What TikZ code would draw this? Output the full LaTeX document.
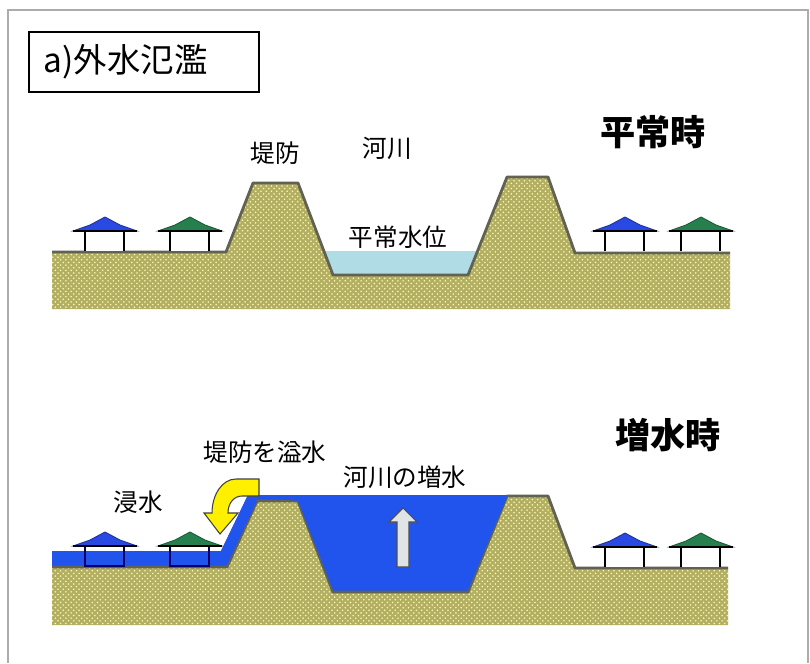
\documentclass[tikz,border=0pt]{standalone}
\usepackage{fontspec}
\setmainfont{Noto Sans CJK JP}
\usetikzlibrary{patterns}

\definecolor{soil}{RGB}{178,174,98}
\definecolor{soildot}{RGB}{250,248,178}
\definecolor{bankline}{RGB}{98,98,82}
\definecolor{calmwater}{RGB}{176,220,230}
\definecolor{floodwater}{RGB}{32,84,236}
\definecolor{roofblue}{RGB}{42,72,226}
\definecolor{roofgreen}{RGB}{38,128,78}
\definecolor{arrowyellow}{RGB}{255,240,0}

\tikzset{
  soilfill/.style={fill=soil},
  soiltex/.style={pattern=crosshatch dots, pattern color=soildot},
  bank/.style={draw=bankline, line width=1.6pt, line join=round},
  lbl/.style={inner sep=0pt, font=\fontsize{14}{14}\selectfont},
  big/.style={inner sep=0pt, font=\fontsize{20}{20}\selectfont\bfseries},
}

\begin{document}
\begin{tikzpicture}[x=0.02cm,y=-0.02cm]
    \useasboundingbox (0,0) rectangle (810,663);
    \fill[white] (0,0) rectangle (810,663);
    \draw[gray!65, line width=1.5pt] (8,663) -- (8,10) -- (808,10) -- (808,663);
    \node (title) [draw, line width=0.9pt, anchor=north west, minimum height=1.2cm,
      text width=4.0cm, inner xsep=0.3cm, font=\fontsize{19}{19}\selectfont] at (28,31) {a)外水氾濫};

    % normal water level
    \fill[calmwater] (322,251) -- (480,251) -- (470,280) -- (330,280) -- cycle;
    \path[soilfill] (52,252) -- (226,252) -- (253,183) -- (298,183) -- (333,275) -- (468,275)
      -- (507,177) -- (548,177) -- (575,253) -- (730,253) -- (730,309) -- (52,309) -- cycle;
    \path[soiltex] (52,252) -- (226,252) -- (253,183) -- (298,183) -- (333,275) -- (468,275)
      -- (507,177) -- (548,177) -- (575,253) -- (730,253) -- (730,309) -- (52,309) -- cycle;
    \draw[bank] (52,252) -- (226,252) -- (253,183) -- (298,183) -- (333,275) -- (468,275)
      -- (507,177) -- (548,177) -- (575,253) -- (730,253);
    \foreach \hx/\rc in {105/roofblue,190/roofgreen,625/roofblue,701/roofgreen} {
      \fill[white] (\hx-20,231) rectangle (\hx+19,251);
      \draw[black, line width=1pt] (\hx-20,251) -- (\hx-20,231) (\hx+19,231) -- (\hx+19,251);
      \filldraw[fill=\rc, draw=\rc!70!black, line width=0.5pt] (\hx-32,231) -- (\hx-15,225) -- (\hx,217)
        -- (\hx+15,225) -- (\hx+32,231) -- cycle;
      \draw[black, line width=0.9pt] (\hx-32,231) -- (\hx+32,231);
    }
    \node (dike) [lbl] at (275,153) {堤防};
    \node (river) [lbl] at (387,148) {河川};
    \node (level) [lbl] at (398,237) {平常水位};
    \node (normal) [big] at (653,132) {平常時};

    % flood
    \fill[floodwater] (52,551) -- (221,551) -- (248,495) -- (508,495) -- (470,600) -- (52,600) -- cycle;
    \path[soilfill] (52,567) -- (227,567) -- (257,501) -- (298,501) -- (333,592) -- (468,592)
      -- (507,496) -- (548,496) -- (575,568) -- (728,568) -- (728,625) -- (52,625) -- cycle;
    \path[soiltex] (52,567) -- (227,567) -- (257,501) -- (298,501) -- (333,592) -- (468,592)
      -- (507,496) -- (548,496) -- (575,568) -- (728,568) -- (728,625) -- (52,625) -- cycle;
    \draw[bank] (52,567) -- (227,567) -- (257,501) -- (298,501) -- (333,592) -- (468,592)
      -- (507,496) -- (548,496) -- (575,568) -- (728,568);
    \fill[floodwater] (52,551) -- (221,551) -- (248,495) -- (257,501) -- (227,565) -- (52,565) -- cycle;
    \fill[floodwater] (298,501) -- (248,495) -- (300,495) -- cycle;
    \fill[floodwater] (300,495) -- (298,501) -- (333,590) -- (468,590) -- (507,497) -- (507,495) -- cycle;
    \foreach \hx/\rc in {105/roofblue,190/roofgreen} {
      \fill[white] (\hx-20,546) rectangle (\hx+19,551);
      \draw[blue!40!black, line width=1pt] (\hx-20,546) rectangle (\hx+19,566);
      \filldraw[fill=\rc, draw=\rc!70!black, line width=0.5pt] (\hx-32,546) -- (\hx-15,540) -- (\hx,532)
        -- (\hx+15,540) -- (\hx+32,546) -- cycle;
      \draw[black, line width=0.9pt] (\hx-32,546) -- (\hx+32,546);
    }
    \foreach \hx/\rc in {625/roofblue,701/roofgreen} {
      \fill[white] (\hx-20,547) rectangle (\hx+19,567);
      \draw[black, line width=1pt] (\hx-20,567) -- (\hx-20,547) (\hx+19,547) -- (\hx+19,567);
      \filldraw[fill=\rc, draw=\rc!70!black, line width=0.5pt] (\hx-32,547) -- (\hx-15,541) -- (\hx,533)
        -- (\hx+15,541) -- (\hx+32,547) -- cycle;
      \draw[black, line width=0.9pt] (\hx-32,547) -- (\hx+32,547);
    }
    % overflow arrow and rising arrow
    \filldraw[fill=arrowyellow, draw=black!75, line width=0.6pt] (259,479) -- (236,479)
      .. controls (222,479) and (212,495) .. (212,513) -- (204,513) -- (220,534) -- (238,513)
      -- (228,513) .. controls (228,503) and (234,496) .. (242,496) -- (259,496) -- cycle;
    \filldraw[fill=cyan!10!gray!25, draw=black!70, line width=0.6pt] (397,567) -- (397,522) -- (389,522)
      -- (403,508) -- (417,522) -- (409,522) -- (409,567) -- cycle;
    \node (inundate) [lbl] at (138,502) {浸水};
    \node (overtop) [lbl] at (265,452) {堤防を溢水};
    \node (rise) [lbl] at (405,477) {河川の増水};
    \node (flood) [big] at (668,435) {増水時};
  \end{tikzpicture}
\end{document}
